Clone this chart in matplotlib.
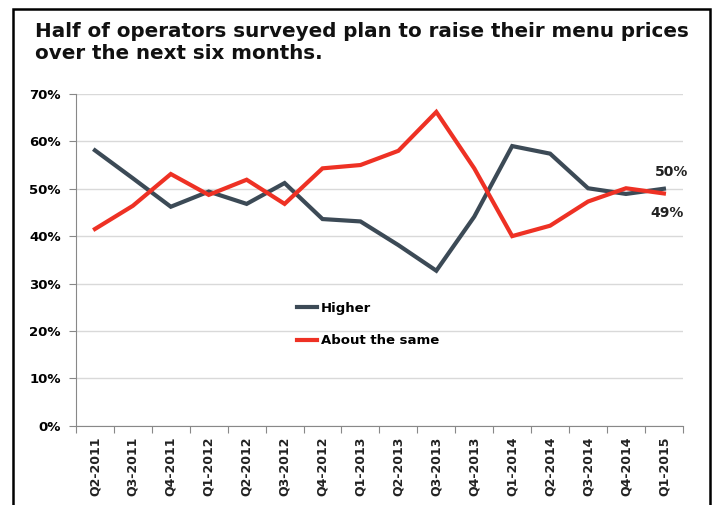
import matplotlib
matplotlib.use("Agg")
import matplotlib.pyplot as plt
from matplotlib.patches import Rectangle
from matplotlib.ticker import FuncFormatter, MultipleLocator

QUARTERS = ["Q2-2011", "Q3-2011", "Q4-2011", "Q1-2012", "Q2-2012", "Q3-2012",
            "Q4-2012", "Q1-2013", "Q2-2013", "Q3-2013", "Q4-2013", "Q1-2014",
            "Q2-2014", "Q3-2014", "Q4-2014", "Q1-2015"]
HIGHER = [58.1, 52.2, 46.2, 49.4, 46.8, 51.2, 43.6, 43.1, 38.1, 32.7,
          44.1, 59.0, 57.4, 50.1, 48.9, 50.0]
SAME = [41.5, 46.4, 53.1, 48.7, 51.9, 46.8, 54.3, 55.0, 58.0, 66.2,
        54.3, 40.0, 42.2, 47.3, 50.1, 49.0]

C_HIGH = "#3c4a56"
C_SAME = "#ee3124"

fig = plt.figure(figsize=(7.14, 5.05), dpi=100)
fig.patch.set_facecolor("white")
ax = fig.add_axes([0.1064, 0.157, 0.85, 0.657])

x = list(range(len(QUARTERS)))
ax.plot(x, HIGHER, color=C_HIGH, lw=3, label="Higher", solid_joinstyle="miter")
ax.plot(x, SAME, color=C_SAME, lw=3, label="About the same", solid_joinstyle="miter")

ax.set_xlim(-0.5, len(QUARTERS) - 0.5)
ax.set_ylim(0, 70)
ax.yaxis.set_major_locator(MultipleLocator(10))
ax.yaxis.set_major_formatter(FuncFormatter(lambda v, p: f"{v:.0f}%"))
ax.grid(axis="y", color="#d9d9d9", lw=1)
ax.set_axisbelow(True)

# boundary ticks between quarters, labels centred on each quarter
ax.set_xticks([i - 0.5 for i in range(len(QUARTERS) + 1)], minor=False)
ax.set_xticklabels([])
ax.set_xticks(x, minor=True)
ax.set_xticklabels(QUARTERS, minor=True, rotation=90, fontsize=9,
                   fontweight="bold", color="#222222")
ax.tick_params(axis="x", which="minor", length=0, pad=8)
ax.tick_params(axis="x", which="major", length=5, color="#888888", direction="out")
ax.tick_params(axis="y", length=5, color="#888888", labelsize=9.5, pad=6)
for lbl in ax.get_yticklabels():
    lbl.set_fontweight("bold")

for s in ["top", "right"]:
    ax.spines[s].set_visible(False)
ax.spines["left"].set_color("#888888")
ax.spines["bottom"].set_color("#888888")

ax.text(len(QUARTERS) - 1 - 0.25, HIGHER[-1] + 3.5, f"{HIGHER[-1]:.0f}%",
        fontsize=10, fontweight="bold", color="#222222", ha="left", va="center")
ax.text(len(QUARTERS) - 1 - 0.35, SAME[-1] - 4.2, f"{SAME[-1]:.0f}%",
        fontsize=10, fontweight="bold", color="#222222", ha="left", va="center")

ax.legend(loc="upper left", bbox_to_anchor=(0.345, 0.41), frameon=False,
          prop={"size": 9.5, "weight": "bold"}, handlelength=1.5,
          handletextpad=0.3, labelspacing=1.5)

fig.text(0.049, 0.957,
         "Half of operators surveyed plan to raise their menu prices\nover the next six months.",
         fontsize=14.3, fontweight="bold", color="#111111", ha="left", va="top",
         linespacing=1.25)

fig.patches.append(Rectangle((0.018, -0.1), 0.977, 1.082, transform=fig.transFigure,
                             fill=False, edgecolor="black", lw=1.8))

fig.savefig("out.png", dpi=100, facecolor="white")
